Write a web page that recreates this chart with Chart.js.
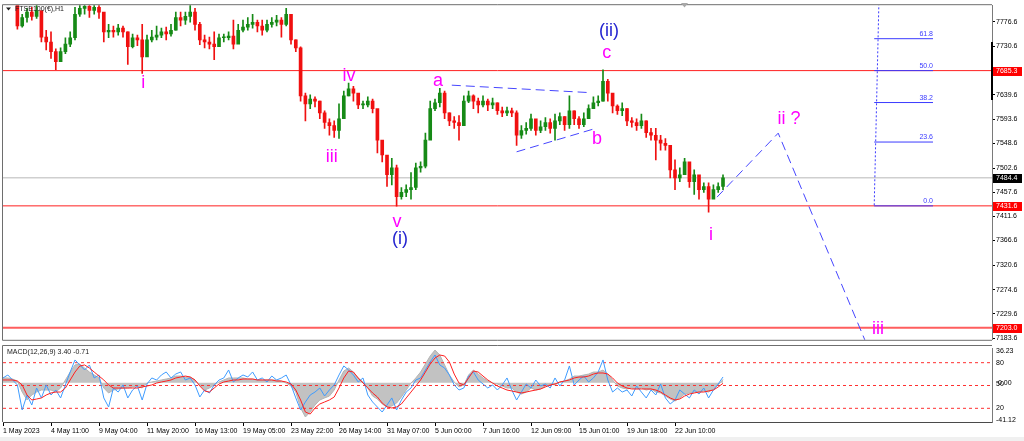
<!DOCTYPE html>
<html>
<head>
<meta charset="utf-8">
<title>FTSE100 H1</title>
<script src="https://cdn.jsdelivr.net/npm/chart.js@4.4.1/dist/chart.umd.min.js"></script>
<style>
  html, body { margin: 0; padding: 0; background: #fff; }
  #wrap { position: relative; width: 1024px; height: 441px; overflow: hidden; background: #fff; }
  #wrap canvas { position: absolute; left: 0; }
  #priceCanvas { top: 0; }
  #macdCanvas { top: 345px; }
</style>
</head>
<body>
<div id="wrap">
  <canvas id="priceCanvas" width="1024" height="345"></canvas>
  <canvas id="macdCanvas" width="1024" height="96"></canvas>
</div>
<script>
(function () {
    "use strict";

    // Time axis labels, one every 10 candles
    var timeLabels = ["1 May 2023", "4 May 11:00", "9 May 04:00", "11 May 20:00", "16 May 13:00",
        "19 May 05:00", "23 May 22:00", "26 May 14:00", "31 May 07:00", "5 Jun 00:00",
        "7 Jun 16:00", "12 Jun 09:00", "15 Jun 01:00", "19 Jun 18:00", "22 Jun 10:00"];
    var candlesPerLabel = 10;

    // Price scale
    var priceTicks = [7776.6, 7730.6, 7639.6, 7593.6, 7548.6, 7502.6, 7457.6,
        7411.6, 7366.6, 7320.6, 7274.6, 7229.6, 7183.6];
    var priceMin = 7180.4;
    var priceMax = 7808.0;
    var xMax = 206.04;

    // Candles (close, high, low); open is the previous close
    var firstOpen = 7835;
    var closes = [7830, 7826, 7820, 7769, 7785, 7795, 7787, 7798, 7748, 7739,
        7721, 7702, 7721, 7735, 7747, 7791, 7802, 7806, 7798, 7804,
        7795, 7758, 7761, 7758, 7765, 7758, 7730, 7747, 7743, 7711,
        7743, 7748, 7752, 7758, 7754, 7761, 7785, 7780, 7787, 7795,
        7772, 7743, 7739, 7735, 7730, 7747, 7747, 7750, 7735, 7761,
        7767, 7772, 7776, 7769, 7761, 7772, 7776, 7780, 7772, 7791,
        7743, 7728, 7638, 7623, 7632, 7628, 7606, 7588, 7582, 7573,
        7595, 7638, 7651, 7643, 7621, 7621, 7628, 7614, 7555, 7527,
        7490, 7503, 7449, 7457, 7462, 7466, 7503, 7506, 7555, 7614,
        7625, 7643, 7606, 7591, 7588, 7582, 7628, 7638, 7628, 7621,
        7628, 7621, 7625, 7610, 7606, 7610, 7606, 7564, 7573, 7577,
        7595, 7573, 7580, 7588, 7577, 7591, 7599, 7584, 7610, 7595,
        7584, 7595, 7614, 7625, 7628, 7665, 7643, 7619, 7610, 7614,
        7591, 7588, 7582, 7591, 7569, 7564, 7555, 7549, 7545, 7499,
        7484, 7490, 7514, 7477, 7490, 7462, 7468, 7444, 7462, 7468,
        7484.4];
    var highs = [7842, 7838, 7832, 7795, 7791, 7802, 7804, 7808, 7795, 7761,
        7758, 7726, 7728, 7747, 7758, 7804, 7817, 7819, 7813, 7817,
        7813, 7791, 7772, 7769, 7772, 7769, 7758, 7754, 7752, 7772,
        7752, 7761, 7769, 7765, 7767, 7772, 7795, 7795, 7795, 7808,
        7802, 7776, 7752, 7748, 7758, 7754, 7754, 7758, 7780, 7772,
        7780, 7785, 7791, 7780, 7780, 7780, 7785, 7789, 7785, 7802,
        7787, 7743, 7730, 7643, 7640, 7636, 7628, 7610, 7595, 7591,
        7623, 7647, 7662, 7656, 7636, 7628, 7636, 7632, 7610, 7540,
        7521, 7521, 7508, 7466, 7471, 7494, 7512, 7514, 7568, 7628,
        7632, 7652, 7647, 7606, 7599, 7601, 7638, 7647, 7640, 7634,
        7638, 7632, 7634, 7625, 7617, 7617, 7615, 7610, 7582, 7588,
        7604, 7591, 7591, 7597, 7595, 7604, 7606, 7599, 7638, 7610,
        7599, 7606, 7621, 7636, 7638, 7687, 7669, 7638, 7621, 7625,
        7614, 7597, 7595, 7604, 7591, 7577, 7577, 7564, 7558, 7545,
        7518, 7503, 7521, 7508, 7499, 7481, 7475, 7475, 7471, 7475,
        7490];
    var lows = [7815, 7814, 7812, 7763, 7767, 7776, 7780, 7783, 7739, 7724,
        7708, 7687, 7702, 7717, 7730, 7743, 7787, 7791, 7785, 7791,
        7783, 7739, 7747, 7748, 7752, 7748, 7697, 7728, 7732, 7680,
        7721, 7739, 7743, 7747, 7743, 7750, 7761, 7769, 7772, 7776,
        7761, 7734, 7728, 7726, 7706, 7730, 7739, 7743, 7726, 7747,
        7758, 7761, 7765, 7758, 7752, 7758, 7767, 7769, 7748, 7769,
        7735, 7721, 7628, 7591, 7614, 7617, 7595, 7577, 7564, 7560,
        7558, 7601, 7638, 7628, 7614, 7614, 7617, 7606, 7531, 7514,
        7468, 7471, 7431, 7444, 7449, 7444, 7462, 7495, 7503, 7564,
        7610, 7617, 7595, 7582, 7577, 7555, 7582, 7625, 7614, 7606,
        7617, 7610, 7614, 7603, 7599, 7601, 7599, 7545, 7558, 7566,
        7573, 7564, 7569, 7573, 7568, 7555, 7584, 7573, 7577, 7584,
        7577, 7580, 7595, 7614, 7619, 7628, 7628, 7606, 7603, 7601,
        7582, 7579, 7573, 7577, 7560, 7555, 7518, 7536, 7536, 7484,
        7462, 7477, 7490, 7466, 7453, 7444, 7457, 7420, 7449, 7457,
        7462];

    // Horizontal levels
    var resistLevel = 7685.3;
    var supportLevel = 7431.6;
    var targetLevel = 7203.0;
    var bidLevel = 7484.4;

    // MACD(12,26,9) and the oscillator drawn in the same window
    var macdMain = [4.9, 4.9, 3.8, 1.7, -9.8, -18.1, -12.9, -9.8, -7.7, -7.7,
        -7.7, -9.8, -5.6, 2.8, 11.1, 18.5, 19.5, 15.3, 11.1, 8.0,
        4.9, -5.6, -10.8, -7.7, -6.6, -5.6, -5.6, -4.5, -3.5, -5.6,
        -0.4, 0.7, 1.7, 2.8, 3.8, 4.9, 6.9, 6.9, 5.9, 5.9,
        2.8, -2.4, -7.7, -5.6, -2.4, 0.7, 2.8, 4.9, 4.9, 4.9,
        4.9, 3.8, 3.8, 2.8, 2.8, 2.8, 2.8, 2.8, 1.7, -0.4,
        -3.5, -9.8, -26.5, -35.9, -30.7, -23.4, -18.1, -16.0, -14.0, -7.7,
        2.8, 12.2, 15.3, 11.1, 4.9, 0.7, -5.6, -14.0, -17.1, -22.3,
        -25.4, -24.4, -21.3, -15.0, -7.7, -0.4, 4.9, 11.1, 19.5, 27.9,
        34.1, 28.9, 18.5, 8.0, 0.7, -4.5, -2.4, 8.0, 13.2, 9.0,
        4.9, 1.7, -0.4, -1.4, -3.5, -5.6, -5.6, -9.8, -11.9, -9.8,
        -5.6, -7.7, -6.6, -3.5, -1.4, -2.4, 0.7, 1.7, 3.8, 6.9,
        6.9, 8.0, 9.0, 11.1, 11.1, 13.2, 9.0, 2.8, -3.5, -5.6,
        -6.6, -5.6, -6.6, -5.6, -7.7, -6.6, -9.8, -10.8, -14.0, -17.1,
        -19.2, -16.0, -11.9, -10.8, -9.8, -9.8, -8.7, -9.8, -6.6, -2.4,
        3.40];
    var macdSignal = [2.8, 2.8, 2.8, 1.7, -2.4, -12.9, -18.1, -17.1, -16.0, -12.9,
        -10.8, -9.8, -9.8, -5.6, 2.8, 11.1, 17.4, 18.5, 15.3, 11.1,
        6.9, 2.8, -2.4, -5.6, -5.6, -5.6, -5.6, -5.6, -5.6, -4.5,
        -3.5, -2.4, -0.4, 0.7, 1.7, 2.8, 4.9, 5.9, 6.9, 5.9,
        2.8, -3.5, -8.7, -9.8, -5.6, -1.4, 0.7, 1.7, 2.8, 2.8,
        3.8, 3.8, 3.8, 2.8, 2.8, 2.8, 2.8, 1.7, 1.7, 0.7,
        -1.4, -7.7, -18.1, -30.7, -32.8, -26.5, -22.3, -20.2, -18.1, -15.0,
        -5.6, 4.9, 12.2, 11.1, 4.9, -0.4, -5.6, -10.8, -15.0, -21.3,
        -25.4, -26.5, -25.4, -22.3, -16.0, -9.8, -3.5, 2.8, 11.1, 19.5,
        25.8, 28.9, 27.9, 21.6, 9.0, -0.4, -2.4, 4.9, 12.2, 11.1,
        6.9, 2.8, -0.4, -3.5, -5.6, -7.7, -8.7, -9.8, -10.8, -9.8,
        -8.7, -7.7, -6.6, -4.5, -2.4, -1.4, 0.7, 1.7, 2.8, 4.9,
        5.9, 5.9, 6.9, 9.0, 10.1, 10.1, 9.0, 4.9, -0.4, -3.5,
        -5.6, -6.6, -6.6, -6.6, -6.6, -6.6, -7.7, -9.8, -12.9, -16.0,
        -18.1, -17.1, -14.0, -11.9, -10.8, -9.8, -9.8, -8.7, -7.7, -4.5,
        -0.71];
    var oscLine = [59.9, 63.8, 57.2, 50.7, 17.8, 37.5, 24.3, 46.7, 33.6, 50.7,
        37.5, 44.1, 33.6, 50.7, 67.8, 83.6, 77.0, 70.4, 77.0, 59.9,
        63.8, 33.6, 21.7, 46.7, 41.4, 50.7, 33.6, 44.1, 49.3, 30.9,
        52.0, 59.9, 57.2, 63.8, 67.8, 59.9, 65.1, 67.8, 57.2, 59.9,
        50.7, 34.9, 44.1, 40.1, 50.7, 57.2, 59.9, 70.4, 54.6, 59.9,
        63.8, 61.2, 67.8, 57.2, 59.9, 54.6, 62.5, 57.2, 59.9, 63.8,
        50.7, 33.6, 17.8, 28.3, 37.5, 41.4, 46.7, 36.2, 44.1, 50.7,
        63.8, 75.7, 70.4, 63.8, 54.6, 59.9, 37.5, 28.3, 21.7, 15.1,
        24.3, 33.6, 17.8, 30.9, 41.4, 46.7, 57.2, 59.9, 70.4, 80.9,
        90.1, 77.0, 73.0, 63.8, 50.7, 44.1, 46.7, 62.5, 67.8, 57.2,
        52.0, 46.7, 50.7, 44.1, 50.7, 59.9, 44.1, 30.9, 41.4, 52.0,
        46.7, 57.2, 49.3, 52.0, 46.7, 59.9, 49.3, 57.2, 75.7, 50.7,
        57.2, 62.5, 54.6, 59.9, 67.8, 83.6, 57.2, 41.4, 46.7, 41.4,
        44.1, 36.2, 49.3, 41.4, 33.6, 44.1, 37.5, 52.0, 33.6, 25.7,
        30.9, 44.1, 38.8, 33.6, 44.1, 38.8, 46.7, 33.6, 44.1, 52.0,
        61.2];
    var oscLevels = [80, 50, 20];
    var macdMin = -41.12;
    var macdMax = 36.23;

    // Wave drawings (candle index, price)
    var triangleUpper = [{x: 93.5, y: 7658}, {x: 122.3, y: 7644}];
    var triangleLower = [{x: 107, y: 7533}, {x: 123.5, y: 7577}];
    var projection = [{x: 148.75, y: 7448}, {x: 161.5, y: 7568}, {x: 181, y: 7149}];
    var fibHigh = 7939.0;
    var fibLow = 7431.6;
    var fibLevels = [0, 23.6, 38.2, 50, 61.8];
    var fibStart = 181.5;
    var fibEnd = 193.75;

    var PINK = "#ff00ff";
    var NAVY = "#2424d0";
    var waveLabels = [
        {t: "i", x: 29.2, y: 7662, c: PINK},
        {t: "iii", x: 68.5, y: 7523, c: PINK},
        {t: "iv", x: 72.1, y: 7676, c: PINK},
        {t: "v", x: 82.1, y: 7401, c: PINK},
        {t: "(i)", x: 82.7, y: 7370, c: NAVY},
        {t: "a", x: 90.6, y: 7666, c: PINK},
        {t: "b", x: 123.75, y: 7557, c: PINK},
        {t: "c", x: 125.8, y: 7719, c: PINK},
        {t: "(ii)", x: 126.25, y: 7760, c: NAVY},
        {t: "i", x: 147.5, y: 7377, c: PINK},
        {t: "ii ?", x: 163.75, y: 7594, c: PINK},
        {t: "iii", x: 182.3, y: 7200, c: PINK}
    ];


    // Global defaults
    Chart.defaults.font.family = "'Liberation Sans', Arial, sans-serif";
    Chart.defaults.font.size = 7;
    Chart.defaults.color = "#000000";


    // Candle datasets
    var opens = closes.map(function (c, i) { return i === 0 ? firstOpen : closes[i - 1]; });
    var candleColors = closes.map(function (c, i) { return c >= opens[i] ? "#168a16" : "#f01010"; });
    var wickData = closes.map(function (c, i) { return {x: i, y: [lows[i], highs[i]]}; });
    var bodyData = closes.map(function (c, i) { return {x: i, y: [opens[i], c]}; });

    function hLine(level) {
        return [{x: 0, y: level}, {x: xMax, y: level}];
    }

    function lineSet(data, color, width, dash, order) {
        return {
            type: "line", data: data, borderColor: color, borderWidth: width,
            borderDash: dash, pointRadius: 0, fill: false, order: order
        };
    }

    var fibSets = fibLevels.map(function (p) {
        var v = fibLow + (fibHigh - fibLow) * p / 100;
        return lineSet([{x: fibStart, y: v}, {x: fibEnd, y: v}], "#3a3aff", 1, [], 3);
    });


    // Price panel decorations
    var priceDecor = {
        id: "priceDecor",
        afterDraw: function (chart) {
            var ctx = chart.ctx, a = chart.chartArea;
            var xs = chart.scales.x, ys = chart.scales.y;
            ctx.save();

            // frame
            ctx.strokeStyle = "#6e6e6e";
            ctx.lineWidth = 1;
            ctx.beginPath();
            ctx.moveTo(a.left - 0.5, a.bottom + 0.5);
            ctx.lineTo(a.left - 0.5, a.top - 0.5);
            ctx.lineTo(a.right, a.top - 0.5);
            ctx.moveTo(a.left - 0.5, a.bottom + 0.5);
            ctx.lineTo(a.right, a.bottom + 0.5);
            ctx.stroke();
            ctx.fillStyle = "#000";
            ctx.fillRect(a.right - 1, 42, 2, 58);

            // shift marker
            ctx.fillStyle = "#a8a8a8";
            ctx.beginPath();
            ctx.moveTo(681, 3); ctx.lineTo(688, 3); ctx.lineTo(684.5, 7.5);
            ctx.closePath(); ctx.fill();

            // price boxes on the axis
            [[resistLevel, "#ff0000"], [bidLevel, "#000000"], [supportLevel, "#ff0000"], [targetLevel, "#ff0000"]]
                .forEach(function (b) {
                    var py = Math.round(ys.getPixelForValue(b[0]));
                    ctx.fillStyle = b[1];
                    ctx.fillRect(a.right + 1, py - 4, 29, 9);
                    ctx.fillStyle = "#fff";
                    ctx.font = "7px 'Liberation Sans', Arial, sans-serif";
                    ctx.textAlign = "left";
                    ctx.textBaseline = "middle";
                    ctx.fillText(b[0].toFixed(1), a.right + 4, py + 0.5);
                });

            // fibonacci labels
            ctx.fillStyle = "#3a3aff";
            ctx.textAlign = "right";
            ctx.textBaseline = "bottom";
            fibLevels.forEach(function (p) {
                var v = fibLow + (fibHigh - fibLow) * p / 100;
                ctx.fillText(p.toFixed(1), xs.getPixelForValue(fibEnd), ys.getPixelForValue(v) - 1);
            });

            // wave labels
            ctx.font = "18px 'Liberation Sans', Arial, sans-serif";
            ctx.textAlign = "center";
            ctx.textBaseline = "middle";
            waveLabels.forEach(function (l) {
                ctx.fillStyle = l.c;
                ctx.fillText(l.t, xs.getPixelForValue(l.x), ys.getPixelForValue(l.y));
            });

            // symbol title
            ctx.fillStyle = "#202020";
            ctx.beginPath();
            ctx.moveTo(6, 7.5); ctx.lineTo(11, 7.5); ctx.lineTo(8.5, 10.5);
            ctx.closePath(); ctx.fill();
            ctx.font = "7px 'Liberation Sans', Arial, sans-serif";
            ctx.textAlign = "left";
            ctx.fillText("FTSE100(€),H1", 15, 9.5);
            ctx.restore();
        }
    };

    new Chart(document.getElementById("priceCanvas"), {
        type: "bar",
        data: {
            datasets: [
                lineSet(projection, "#4646ff", 1, [9, 5], 1),
                lineSet(triangleUpper, "#4646ff", 1, [9, 5], 2),
                lineSet(triangleLower, "#4646ff", 1, [9, 5], 2),
                lineSet([{x: 182.8, y: fibHigh}, {x: fibStart, y: fibLow}], "#3a3aff", 1, [2, 2], 3)
            ].concat(fibSets).concat([
                {
                    type: "bar", data: bodyData, backgroundColor: candleColors,
                    barThickness: 3, grouped: false, minBarLength: 1, order: 5
                },
                {
                    type: "bar", data: wickData, backgroundColor: candleColors,
                    barThickness: 1, grouped: false, order: 6
                },
                lineSet(hLine(resistLevel), "#ff2020", 1, [], 7),
                lineSet(hLine(supportLevel), "#ff2020", 1, [], 7),
                lineSet(hLine(targetLevel), "rgba(255,40,40,0.75)", 2, [], 7),
                lineSet(hLine(bidLevel), "#cfcfcf", 1.5, [], 8)
            ])
        },
        options: {
            responsive: false,
            animation: false,
            layout: {padding: {left: 3, top: 3, right: 0, bottom: 2}},
            plugins: {legend: {display: false}, tooltip: {enabled: false}},
            scales: {
                x: {type: "linear", min: 0, max: xMax, offset: false, display: false, grid: {offset: false}},
                y: {
                    position: "right", min: priceMin, max: priceMax,
                    afterFit: function (s) { s.width = 32; },
                    afterBuildTicks: function (s) {
                        s.ticks = priceTicks.map(function (v) { return {value: v}; });
                    },
                    ticks: {callback: function (v) { return v.toFixed(1); }, padding: 1, autoSkip: false},
                    grid: {display: true, drawOnChartArea: false, tickLength: 3, color: "#000"},
                    border: {display: true, color: "#7a7a7a"}
                }
            }
        },
        plugins: [priceDecor]
    });


    // MACD panel decorations
    var macdDecor = {
        id: "macdDecor",
        afterDraw: function (chart) {
            var ctx = chart.ctx, a = chart.chartArea;
            var ys = chart.scales.y, yo = chart.scales.yo;
            ctx.save();
            ctx.strokeStyle = "#6e6e6e";
            ctx.lineWidth = 1;
            ctx.beginPath();
            ctx.moveTo(a.left - 0.5, 0.5);
            ctx.lineTo(a.right, 0.5);
            ctx.moveTo(a.left - 0.5, 0.5);
            ctx.lineTo(a.left - 0.5, a.bottom);
            ctx.stroke();

            ctx.fillStyle = "#f0f0f0";
            ctx.fillRect(0, 92, chart.width, 4);

            ctx.fillStyle = "#202020";
            ctx.font = "7px 'Liberation Sans', Arial, sans-serif";
            ctx.textAlign = "left";
            ctx.textBaseline = "middle";
            ctx.fillText("MACD(12,26,9) " + macdMain[macdMain.length - 1].toFixed(2) + " " +
                macdSignal[macdSignal.length - 1].toFixed(2), 7, 7.5);

            var lx = a.right + 4;
            ctx.fillStyle = "#000";
            ctx.fillText(macdMax.toFixed(2), lx, ys.getPixelForValue(macdMax) + 3);
            ctx.fillText(macdMin.toFixed(2), lx, ys.getPixelForValue(macdMin) - 2);
            ctx.fillText("0.00", lx + 2, ys.getPixelForValue(0));
            oscLevels.forEach(function (v) {
                ctx.fillText(String(v), lx, yo.getPixelForValue(v) - (v === 50 ? 1 : 0));
            });
            ctx.restore();
        }
    };

    function idx(arr) {
        return arr.map(function (v, i) { return {x: i, y: v}; });
    }

    var levelSets = oscLevels.map(function (v) {
        return {
            data: hLine(v), yAxisID: "yo", borderColor: "#ff3030", borderWidth: 1,
            borderDash: [3, 3], pointRadius: 0, fill: false, order: 8
        };
    });

    new Chart(document.getElementById("macdCanvas"), {
        type: "line",
        data: {
            datasets: [
                {
                    data: idx(macdSignal), yAxisID: "y", borderColor: "#ff2020",
                    borderWidth: 1, pointRadius: 0, fill: false, order: 2
                },
                {
                    data: idx(oscLine), yAxisID: "yo", borderColor: "#3f9cff",
                    borderWidth: 1, pointRadius: 0, fill: false, order: 3
                },
                {
                    data: idx(macdMain), yAxisID: "y", borderColor: "#b4b4b4",
                    backgroundColor: "#c2c2c2", borderWidth: 1, pointRadius: 0,
                    fill: "origin", order: 9
                }
            ].concat(levelSets)
        },
        options: {
            responsive: false,
            animation: false,
            layout: {padding: {left: 3, top: 3, right: 0, bottom: 0}},
            plugins: {legend: {display: false}, tooltip: {enabled: false}},
            scales: {
                x: {
                    type: "linear", min: 0, max: xMax, offset: false,
                    afterBuildTicks: function (s) {
                        s.ticks = timeLabels.map(function (t, k) { return {value: k * candlesPerLabel}; });
                    },
                    afterFit: function (s) { s.height = 19; },
                    ticks: {
                        callback: function (v, i) { return timeLabels[i]; },
                        align: "start", maxRotation: 0, autoSkip: false, padding: 1
                    },
                    grid: {display: true, drawOnChartArea: false, tickLength: 4, color: "#000", offset: false},
                    border: {display: true, color: "#4a4a4a"}
                },
                y: {
                    position: "right", min: macdMin, max: macdMax,
                    afterFit: function (s) { s.width = 32; },
                    ticks: {display: false},
                    grid: {display: false},
                    border: {display: true, color: "#7a7a7a"}
                },
                yo: {display: false, min: 2, max: 99.3}
            }
        },
        plugins: [macdDecor]
    });

})();
</script>
</body>
</html>
